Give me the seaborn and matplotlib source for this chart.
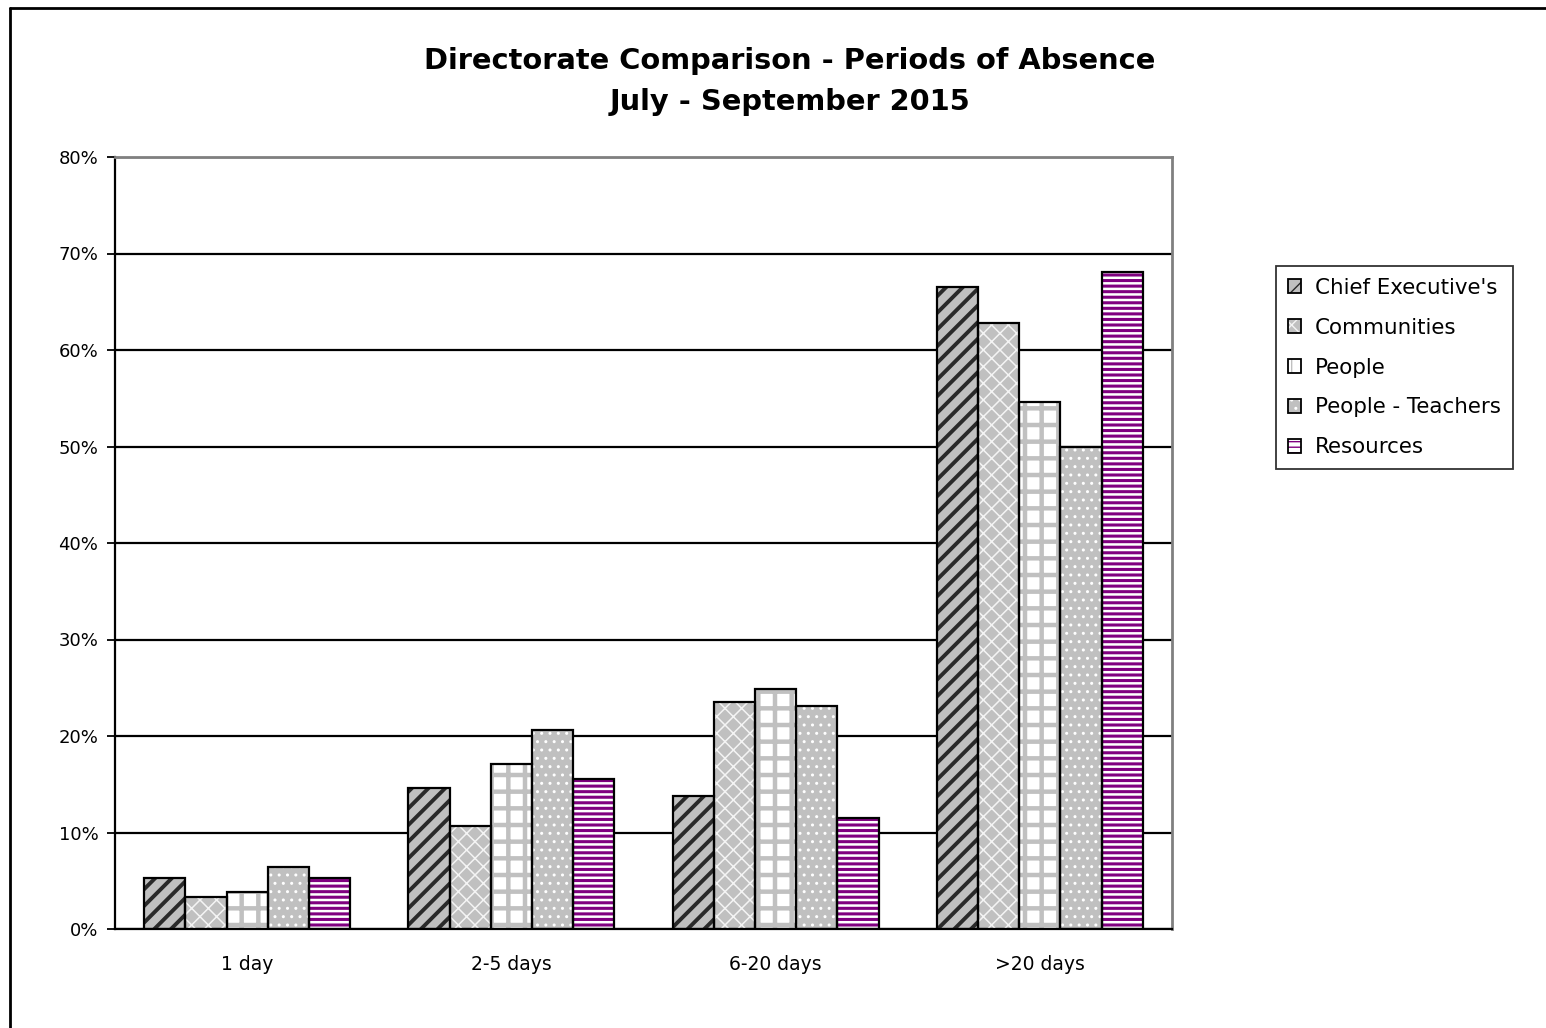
import pandas as pd
import matplotlib
matplotlib.use("Agg")
import matplotlib.pyplot as plt
import seaborn as sns
from matplotlib.patches import Rectangle, Patch
from matplotlib.lines import Line2D
from matplotlib.legend_handler import HandlerTuple
from matplotlib.ticker import FixedLocator, FuncFormatter

# Données (en %)
periods = ["1 day", "2-5 days", "6-20 days", ">20 days"]
directorates = ["Chief Executive's", "Communities", "People", "People - Teachers", "Resources"]
chief_exec = [5.3, 14.6, 13.8, 66.5]
communities = [3.3, 10.7, 23.5, 62.8]
people = [3.8, 17.1, 24.9, 54.6]
teachers = [6.4, 20.6, 23.1, 49.9]
resources = [5.3, 15.5, 11.5, 68.1]

# Style des barres : couleur de fond, motif, couleur du motif, épaisseur du motif
face_colors = ["#c0c0c0", "#c0c0c0", "#ffffff", "#c0c0c0", "#ffffff"]
hatches = ["//", "xx", "+", "..", "---"]
hatch_colors = ["#2a2a2a", "#f4f4f4", "#c0c0c0", "#ffffff", "#800080"]
hatch_widths = [2.8, 1.1, 3.2, 1.0, 2.2]

series = [chief_exec, communities, people, teachers, resources]
df = pd.DataFrame({
    "period": [p for s in series for p in periods],
    "directorate": [d for d, s in zip(directorates, series) for _ in s],
    "pct": [v for s in series for v in s],
})

sns.set_style("white")
plt.rcParams["font.family"] = ["DejaVu Sans"]
plt.rcParams["text.color"] = "black"
plt.rcParams["xtick.color"] = "black"
plt.rcParams["ytick.color"] = "black"
plt.rcParams["axes.labelcolor"] = "black"

fig = plt.figure(figsize=(15.46, 10.28), dpi=100)
ax = fig.add_axes([115 / 1546, 1 - 929 / 1028, (1172 - 115) / 1546, (929 - 157) / 1028])

sns.barplot(data=df, x="period", y="pct", hue="directorate", order=periods,
            hue_order=directorates, palette=face_colors, saturation=1,
            width=0.78, edgecolor="black", linewidth=0, legend=False, ax=ax)


def hatch_patch(xy, w, h, hatch, color, lw, zorder):
    with plt.rc_context({"hatch.linewidth": lw}):
        p = Rectangle(xy, w, h, facecolor="none", edgecolor=color, linewidth=0,
                      hatch=hatch, zorder=zorder)
    if hasattr(p, "set_hatch_linewidth"):
        p.set_hatch_linewidth(lw)
    return p


# motifs + contour noir sur chaque barre
for i, cont in enumerate(ax.containers):
    for bar in cont:
        x, y = bar.get_x(), bar.get_y()
        w, h = bar.get_width(), bar.get_height()
        ax.add_patch(hatch_patch((x, y), w, h, hatches[i], hatch_colors[i], hatch_widths[i], 3))
        ax.add_patch(Rectangle((x, y), w, h, fill=False, edgecolor="black",
                               linewidth=1.6, zorder=4))

# axes
ax.set_ylim(0, 80)
ax.set_xlim(-0.5, 3.5)
ax.set_yticks(range(0, 81, 10))
ax.yaxis.set_major_formatter(FuncFormatter(lambda v, _: f"{v:.0f}%"))
ax.yaxis.grid(True, color="black", linewidth=1.6)
ax.set_axisbelow(True)
ax.xaxis.set_minor_locator(FixedLocator([-0.5, 0.5, 1.5, 2.5, 3.5]))
ax.tick_params(axis="x", which="major", length=0, pad=19, labelsize=13.5)
ax.tick_params(axis="x", which="minor", length=6, width=1.3, color="black", direction="out")
ax.tick_params(axis="y", length=6, width=1.3, color="black", direction="out",
               pad=6, labelsize=13, left=True)
ax.set_xlabel("")
ax.set_ylabel("")
for side in ["left", "bottom"]:
    ax.spines[side].set_color("black")
    ax.spines[side].set_linewidth(1.6)
for side in ["top", "right"]:
    ax.spines[side].set_color("#808080")
    ax.spines[side].set_linewidth(2)

fig.suptitle("Directorate Comparison - Periods of Absence\nJuly - September 2015",
             fontsize=20.8, fontweight="bold", x=0.511, y=0.954, linespacing=1.6)

# légende
handles = []
for i in range(len(directorates)):
    base = Patch(facecolor=face_colors[i], edgecolor="black", linewidth=0)
    hp = Patch(facecolor="none", edgecolor=hatch_colors[i], linewidth=0, hatch=hatches[i])
    outline = Patch(fill=False, edgecolor="black", linewidth=1.3)
    handles.append((base, hp, outline))
leg = fig.legend(handles, directorates, handler_map={tuple: HandlerTuple(ndivide=1, pad=0)},
                 loc="upper left", bbox_to_anchor=(1276 / 1546, 1 - 266 / 1028),
                 borderaxespad=0, fontsize=15.4, frameon=True, fancybox=False,
                 edgecolor="black", handlelength=0.62, handleheight=0.62,
                 handletextpad=0.65, labelspacing=0.93, borderpad=0.55)
leg.get_frame().set_linewidth(1.3)

# cadre de la figure (gauche et haut)
fig.add_artist(Line2D([10 / 1546, 10 / 1546], [0, 1 - 8 / 1028], color="black",
                      linewidth=2, transform=fig.transFigure))
fig.add_artist(Line2D([10 / 1546, 1], [1 - 8 / 1028, 1 - 8 / 1028], color="black",
                      linewidth=2, transform=fig.transFigure))

fig.savefig("out.png", dpi=100)
